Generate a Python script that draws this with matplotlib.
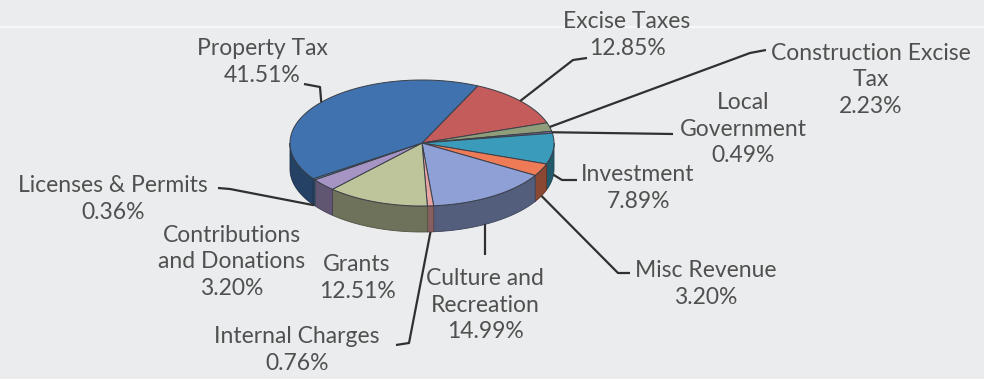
import numpy as np
import matplotlib.pyplot as plt
from matplotlib.patches import Polygon
from matplotlib.colors import to_rgb

# revenue sources, clockwise from the top of the pie
names = ["Excise Taxes", "Construction Excise\nTax", "Local\nGovernment",
         "Investment", "Misc Revenue", "Culture and\nRecreation",
         "Internal Charges", "Grants", "Contributions\nand Donations",
         "Licenses & Permits", "Property Tax"]
shares = [12.85, 2.23, 0.49, 7.89, 3.20, 14.99, 0.76, 12.51, 3.20, 0.36, 41.51]
colors = ["#c45c5b", "#8f9d7b", "#7a6a9c", "#3b9bba", "#ee7b56", "#8fa0d6",
          "#e8a3a3", "#bfc59b", "#a694c4", "#4f8fba", "#3f72ae"]

# label block centres and leader elbows (pixel coords)
label_pos = [(627, 35), (871, 80), (743, 129), (638, 188), (706, 284),
             (485, 305), (297, 350), (357, 278), (232, 262), (113, 199),
             (262, 62)]
leaders = [[(587, 58), (573, 60)],
           [(766, 50), (750, 53)],
           [(673, 134)],
           [(577, 180), (562, 180)],
           [(630, 273), (618, 273)],
           [(485, 255)],
           [(396, 345), (409, 343)],
           None,
           None,
           [(218, 188), (230, 189)],
           [(304, 84), (320, 87)]]
# leaders that drop straight down onto the pie's lower edge
straight = {5}

W, H = 984, 379
cx, cy, a, b, depth = 422, 143, 132, 63, 26
start = 25.0

plt.rcParams["font.family"] = ["Lato", "DejaVu Sans"]
fig = plt.figure(figsize=(W / 100, H / 100), dpi=100)
fig.patch.set_facecolor("#ebeced")
ax = fig.add_axes([0, 0, 1, 1])
ax.set_xlim(0, W)
ax.set_ylim(H, 0)
ax.axis("off")
ax.axhline(27, color="#f7f7f7", lw=1.5, zorder=0)


def rim(theta):
    t = np.radians(theta)
    return cx + a * np.sin(t), cy - b * np.cos(t)


def shade(c, f):
    r, g, bl = to_rgb(c)
    return (r * f, g * f, bl * f)


edges = start + np.concatenate([[0], np.cumsum(shares)]) * 3.6

# side wall of the front half
for i, c in enumerate(colors):
    lo, hi = edges[i], edges[i + 1]
    for off in (0, 360):
        s, e = max(lo - off, 90), min(hi - off, 270)
        if e <= s:
            continue
        th = np.linspace(s, e, 60)
        x, y = rim(th)
        pts = np.column_stack([np.r_[x, x[::-1]], np.r_[y, y[::-1] + depth]])
        ax.add_patch(Polygon(pts, closed=True, fc=shade(c, 0.58),
                             ec=shade(c, 0.42), lw=0.6, zorder=2))

# top face
for i, c in enumerate(colors):
    th = np.linspace(edges[i], edges[i + 1], 120)
    x, y = rim(th)
    pts = np.column_stack([np.r_[cx, x], np.r_[cy, y]])
    ax.add_patch(Polygon(pts, closed=True, fc=c, ec="#3a3f48", lw=0.7,
                         zorder=3))

# labels and leader lines
for i, name in enumerate(names):
    text = f"{name}\n{shares[i]:.2f}%"
    ax.text(*label_pos[i], text, ha="center", va="center", fontsize=16.5,
            color="#505050", linespacing=1.35, zorder=5)
    if leaders[i] is None:
        continue
    if i in straight:
        px = leaders[i][-1][0]
        py = cy + b * np.sqrt(1 - ((px - cx) / a) ** 2) + depth
    else:
        mid = (edges[i] + edges[i + 1]) / 2 % 360
        px, py = rim(mid)
        if 90 < mid < 270:
            py += depth
    pts = leaders[i] + [(px, py)]
    ax.plot([p[0] for p in pts], [p[1] for p in pts], color="#303030",
            lw=1.6, zorder=4, solid_capstyle="butt")

fig.savefig("out.png", dpi=100, facecolor=fig.get_facecolor())
